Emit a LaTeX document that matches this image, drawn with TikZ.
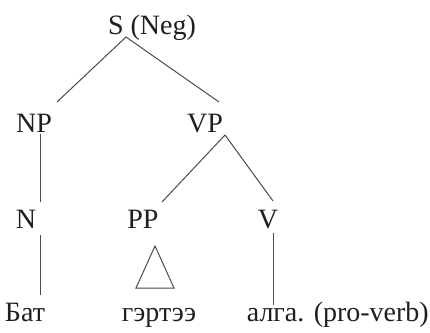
\documentclass[tikz,border=0pt]{standalone}
\usepackage{fontspec}
\setmainfont{Liberation Serif}
\begin{document}
\begin{tikzpicture}[x=1pt,y=-1pt,
  lbl/.style={anchor=base, inner sep=0pt, text=black!88, font=\fontsize{28}{32}\selectfont},
  branch/.style={draw=black!70, line width=1pt}]
\useasboundingbox[fill=white] (0,0) rectangle (430,332);

% category labels
\node[lbl] (S)  at (152,34)  {S (Neg)};
\node[lbl] (NP) at (34,132)  {NP};
\node[lbl] (VP) at (205,132) {VP};
\node[lbl] (N)  at (26,228)  {N};
\node[lbl] (PP) at (143,228) {PP};
\node[lbl] (V)  at (268,228) {V};

% words
\node[lbl] (bat)  at (25,321)  {Бат};
\node[lbl] (gert) at (159,321) {гэртээ};
\node[lbl, anchor=base east] (alga) at (429,321) {алга. (pro-verb)};

% branch end points
\coordinate (s-foot)   at (126,37);
\coordinate (np-head)  at (57,102);
\coordinate (vp-head)  at (219,102);
\coordinate (np-foot)  at (40,134);
\coordinate (n-head)   at (40,202);
\coordinate (vp-foot)  at (225,135);
\coordinate (pp-head)  at (162,202);
\coordinate (v-head)   at (273,201);
\coordinate (n-foot)   at (40,235);
\coordinate (bat-head) at (40,295);
\coordinate (v-foot)   at (273,233);
\coordinate (alga-head) at (273,305);

\draw[branch] (np-head) -- (s-foot) -- (vp-head);
\draw[branch] (np-foot) -- (n-head);
\draw[branch] (pp-head) -- (vp-foot) -- (v-head);
\draw[branch] (n-foot) -- (bat-head);
\draw[branch] (v-foot) -- (alga-head);

% roof over the PP
\coordinate (roof-top) at (155,246);
\coordinate (roof-l)   at (136,288);
\coordinate (roof-r)   at (174,288);
\draw[branch] (roof-top) -- (roof-l) -- (roof-r) -- cycle;
\end{tikzpicture}
\end{document}
